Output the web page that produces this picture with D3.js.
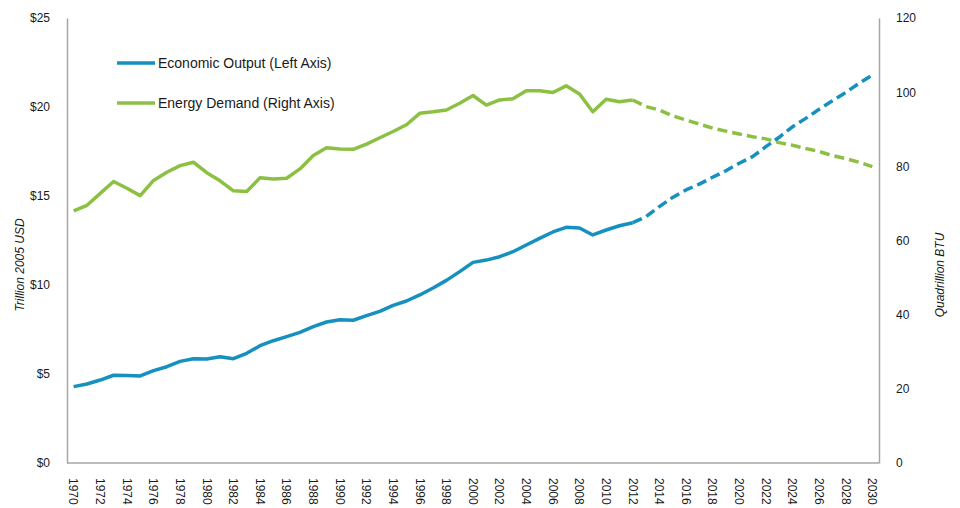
<!doctype html>
<html lang="en">
<head>
<meta charset="utf-8">
<title>Economic Output and Energy Demand</title>
<style>
html, body {
	margin: 0;
	padding: 0;
	background: #fff;
	font-family: 'Liberation Sans', Arial, sans-serif;
	color: #1a1a1a;
}
svg text {
	fill: #1a1a1a;
}
.axis path {
	stroke: #a6a6a6;
	stroke-width: 1.5px;
}
.axis text {
	font-size: 12px;
	font-family: 'Liberation Sans', Arial, sans-serif;
}
</style>
</head>
<body>
<div id="chart"></div>
<script src="https://cdnjs.cloudflare.com/ajax/libs/d3/7.8.5/d3.min.js"></script>
<script>
// years 1970..2030, one per category
var years = d3.range(1970, 2031);
var histYears = d3.range(1970, 2013);
var fcstYears = d3.range(2012, 2031);

// Economic output, trillion 2005 USD (left axis)
var outputHist = [4.29, 4.44, 4.66, 4.93, 4.91, 4.89, 5.19, 5.41, 5.71, 5.86,
	5.84, 5.97, 5.86, 6.16, 6.59, 6.87, 7.10, 7.34, 7.66, 7.92,
	8.05, 8.02, 8.28, 8.52, 8.86, 9.10, 9.44, 9.83, 10.26, 10.75,
	11.27, 11.40, 11.59, 11.87, 12.25, 12.62, 12.98, 13.24, 13.20, 12.81,
	13.09, 13.33, 13.50];
var outputFcst = [13.50, 13.84, 14.40, 14.92, 15.34, 15.67, 16.05, 16.42, 16.84, 17.21,
	17.77, 18.30, 18.89, 19.36, 19.87, 20.35, 20.82, 21.33, 21.80];

// Energy demand, quadrillion BTU (right axis)
var energyHist = [68.0, 69.5, 72.7, 75.9, 74.1, 72.1, 76.2, 78.4, 80.2, 81.1,
	78.3, 76.1, 73.4, 73.2, 76.9, 76.6, 76.8, 79.3, 82.9, 85.0,
	84.7, 84.6, 86.0, 87.7, 89.4, 91.2, 94.3, 94.7, 95.2, 97.0,
	99.1, 96.5, 97.9, 98.2, 100.4, 100.4, 99.9, 101.7, 99.5, 94.7,
	98.1, 97.4, 97.9];
var energyFcst = [97.9, 96.1, 95.2, 93.6, 92.5, 91.4, 90.3, 89.5, 88.7, 88.0,
	87.4, 86.4, 85.7, 84.8, 84.0, 82.9, 82.1, 81.1, 79.9];

var leftTicks = [0, 5, 10, 15, 20, 25];
var rightTicks = [0, 20, 40, 60, 80, 100, 120];
var xTicks = d3.range(1970, 2031, 2);

var legendItems = ['Economic Output (Left Axis)', 'Energy Demand (Right Axis)'];

var BLUE = '#1690be';
var GREEN = '#8cc043';

var W = 960, H = 508;
var margin = {top: 18, right: 81, bottom: 45, left: 67};

var svg = d3.select('#chart').append('svg')
	.attr('width', W)
	.attr('height', H);

var x = d3.scaleBand()
	.domain(years)
	.range([margin.left, W - margin.right])
	.padding(0);

var yL = d3.scaleLinear()
	.domain([0, 25])
	.range([H - margin.bottom, margin.top]);

var yR = d3.scaleLinear()
	.domain([0, 120])
	.range([H - margin.bottom, margin.top]);

var cx = function (yr) { return x(yr) + x.bandwidth() / 2; };

/* axes */
svg.append('g')
	.attr('class', 'axis')
	.attr('transform', 'translate(' + margin.left + ',0)')
	.call(d3.axisLeft(yL).tickValues(leftTicks).tickSize(0).tickPadding(17)
		.tickFormat(function (d) { return '$' + d; }));

svg.append('g')
	.attr('class', 'axis')
	.attr('transform', 'translate(' + (W - margin.right) + ',0)')
	.call(d3.axisRight(yR).tickValues(rightTicks).tickSize(0).tickPadding(17));

var xAxis = svg.append('g')
	.attr('class', 'axis')
	.attr('transform', 'translate(0,' + (H - margin.bottom) + ')')
	.call(d3.axisBottom(x).tickValues(xTicks).tickSize(0).tickSizeOuter(0));

xAxis.selectAll('text')
	.attr('transform', 'rotate(90)')
	.attr('x', 15)
	.attr('y', 0)
	.attr('dy', '0.35em')
	.style('text-anchor', 'start');

xAxis.selectAll('.domain').attr('d', 'M' + margin.left + ',0H' + (W - margin.right));

/* axis titles */
svg.append('text')
	.attr('transform', 'translate(24,265) rotate(-90)')
	.attr('text-anchor', 'middle')
	.style('font-size', '12px')
	.style('font-style', 'italic')
	.text('Trillion 2005 USD');

svg.append('text')
	.attr('transform', 'translate(944,275) rotate(-90)')
	.attr('text-anchor', 'middle')
	.style('font-size', '12px')
	.style('font-style', 'italic')
	.text('Quadrillion BTU');

/* lines */
var lineL = d3.line()
	.x(function (d) { return cx(d[0]); })
	.y(function (d) { return yL(d[1]); });

var lineR = d3.line()
	.x(function (d) { return cx(d[0]); })
	.y(function (d) { return yR(d[1]); });

var series = [
	{yrs: histYears, vals: energyHist, line: lineR, color: GREEN, dash: null},
	{yrs: fcstYears, vals: energyFcst, line: lineR, color: GREEN, dash: '10,5'},
	{yrs: histYears, vals: outputHist, line: lineL, color: BLUE, dash: null},
	{yrs: fcstYears, vals: outputFcst, line: lineL, color: BLUE, dash: '10,5'}
];

svg.selectAll('path.series')
	.data(series)
	.enter()
	.append('path')
	.attr('class', 'series')
	.attr('fill', 'none')
	.attr('stroke', function (d) { return d.color; })
	.attr('stroke-width', 3.5)
	.attr('stroke-linejoin', 'round')
	.attr('stroke-dasharray', function (d) { return d.dash; })
	.attr('d', function (d) {
		return d.line(d.yrs.map(function (yr, i) { return [yr, d.vals[i]]; }));
	});

/* legend */
var legend = svg.append('g')
	.attr('transform', 'translate(117,63)');

var item = legend.selectAll('g')
	.data(legendItems)
	.enter()
	.append('g')
	.attr('transform', function (d, i) { return 'translate(0,' + (i * 40) + ')'; });

item.append('line')
	.attr('x1', 0)
	.attr('x2', 38)
	.attr('stroke', function (d, i) { return i === 0 ? BLUE : GREEN; })
	.attr('stroke-width', 3.5);

item.append('text')
	.attr('x', 41)
	.attr('dy', '0.35em')
	.style('font-size', '14px')
	.text(function (d) { return d; });
</script>
</body>
</html>
